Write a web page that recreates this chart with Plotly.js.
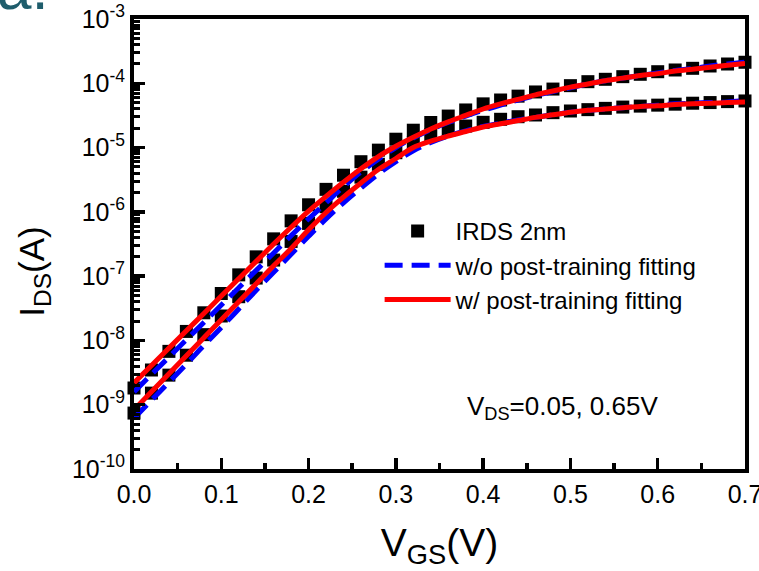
<!DOCTYPE html>
<html><head><meta charset="utf-8">
<script src="https://cdn.plot.ly/plotly-3.0.1.min.js"></script>
<style>html,body{margin:0;padding:0;background:#fff}#chart{width:759px;height:571px}</style>
</head><body><div id="chart"></div>
<script>
// Gate voltage (V)
const vgs = [0,0.02,0.04,0.06,0.08,0.10,0.12,0.14,0.16,0.18,0.20,0.22,0.24,0.26,0.28,0.30,0.32,0.34,0.36,0.38,0.40,0.42,0.44,0.46,0.48,0.50,0.52,0.54,0.56,0.58,0.60,0.62,0.64,0.66,0.68,0.70];
// log10(I_DS / A)
const irdsHighLog = [-8.74,-8.46,-8.17,-7.86,-7.57,-7.27,-6.98,-6.70,-6.42,-6.14,-5.89,-5.65,-5.43,-5.22,-5.04,-4.87,-4.73,-4.61,-4.51,-4.415,-4.32,-4.26,-4.20,-4.135,-4.09,-4.037,-3.975,-3.938,-3.897,-3.86,-3.82,-3.793,-3.767,-3.731,-3.70,-3.673];
const irdsLowLog = [-9.13,-8.82,-8.54,-8.23,-7.91,-7.62,-7.32,-7.03,-6.75,-6.46,-6.18,-5.92,-5.68,-5.46,-5.26,-5.08,-4.92,-4.80,-4.72,-4.665,-4.607,-4.56,-4.52,-4.493,-4.457,-4.431,-4.41,-4.39,-4.37,-4.355,-4.34,-4.325,-4.31,-4.30,-4.285,-4.275];
const woHighLog = [-8.80,-8.53,-8.26,-7.99,-7.72,-7.45,-7.18,-6.91,-6.64,-6.37,-6.11,-5.86,-5.61,-5.38,-5.18,-5.00,-4.85,-4.72,-4.61,-4.51,-4.42,-4.34,-4.26,-4.19,-4.13,-4.07,-4.01,-3.96,-3.92,-3.88,-3.84,-3.80,-3.77,-3.73,-3.70,-3.67];
const woLowLog = [-9.21,-8.93,-8.65,-8.37,-8.08,-7.80,-7.51,-7.22,-6.94,-6.66,-6.38,-6.11,-5.86,-5.63,-5.41,-5.22,-5.05,-4.92,-4.82,-4.74,-4.67,-4.62,-4.57,-4.53,-4.49,-4.45,-4.42,-4.40,-4.38,-4.36,-4.34,-4.32,-4.31,-4.30,-4.29,-4.27];
const wHighLog = [-8.66,-8.39,-8.12,-7.85,-7.58,-7.31,-7.04,-6.77,-6.50,-6.24,-5.99,-5.76,-5.54,-5.33,-5.14,-4.98,-4.84,-4.71,-4.60,-4.50,-4.40,-4.32,-4.25,-4.18,-4.12,-4.06,-4.01,-3.96,-3.92,-3.88,-3.85,-3.81,-3.78,-3.75,-3.72,-3.69];
const wLowLog = [-9.08,-8.80,-8.52,-8.24,-7.96,-7.68,-7.40,-7.12,-6.84,-6.57,-6.28,-6.01,-5.77,-5.55,-5.34,-5.17,-5.00,-4.90,-4.82,-4.75,-4.68,-4.63,-4.58,-4.53,-4.49,-4.45,-4.42,-4.40,-4.38,-4.36,-4.35,-4.33,-4.32,-4.31,-4.30,-4.29];

const seriesNames = ['IRDS 2nm','w/o post-training fitting','w/ post-training fitting'];
const xTickVals = [0,0.1,0.2,0.3,0.4,0.5,0.6,0.7];
const xTickText = ['0.0','0.1','0.2','0.3','0.4','0.5','0.6','0.7'];
const yTickVals = [1e-10,1e-9,1e-8,1e-7,1e-6,1e-5,1e-4,1e-3];
const yTickText = ['10<sup>-10</sup>','10<sup>-9</sup>','10<sup>-8</sup>','10<sup>-7</sup>','10<sup>-6</sup>','10<sup>-5</sup>','10<sup>-4</sup>','10<sup>-3</sup>'];

const toA = arr => arr.map(v => Math.pow(10, v));
const FONT = 'Liberation Sans, Arial, sans-serif';

const traces = [
  {x: vgs, y: toA(irdsHighLog), mode:'markers', name: seriesNames[0], showlegend:true,
   marker:{symbol:'square', size:13, color:'#000'}, cliponaxis:false},
  {x: vgs, y: toA(irdsLowLog), mode:'markers', name: seriesNames[0], showlegend:false,
   marker:{symbol:'square', size:13, color:'#000'}, cliponaxis:false},
  {x: vgs, y: toA(woHighLog), mode:'lines', name: seriesNames[1], showlegend:true,
   line:{color:'#0000ff', width:5, dash:'18px,9px', shape:'spline'}},
  {x: vgs, y: toA(woLowLog), mode:'lines', name: seriesNames[1], showlegend:false,
   line:{color:'#0000ff', width:5, dash:'18px,9px', shape:'spline'}},
  {x: vgs, y: toA(wHighLog), mode:'lines', name: seriesNames[2], showlegend:true,
   line:{color:'#ff0000', width:5, shape:'spline'}},
  {x: vgs, y: toA(wLowLog), mode:'lines', name: seriesNames[2], showlegend:false,
   line:{color:'#ff0000', width:5, shape:'spline'}}
];

const layout = {
  width:759, height:571,
  margin:{l:134, r:14, t:19, b:102},
  paper_bgcolor:'#fff', plot_bgcolor:'#fff',
  font:{family:FONT, color:'#000'},
  showlegend:true,
  legend:{x:0.402, y:0.578, xanchor:'left', yanchor:'top', bgcolor:'rgba(0,0,0,0)',
          font:{size:24, family:FONT}, traceorder:'normal', itemwidth:66},
  xaxis:{range:[0,0.7], tickvals:xTickVals, ticktext:xTickText, ticks:'inside', ticklen:11, tickwidth:3.5,
         tickcolor:'#000', showline:true, linewidth:4, linecolor:'#000', mirror:true,
         showgrid:false, zeroline:false, tickfont:{size:25, family:FONT}, ticklabeloverflow:'allow',
         minor:{ticks:'inside', dtick:0.05, ticklen:6, tickwidth:3.5, tickcolor:'#000', showgrid:false},
         title:{text:'V<sub>GS</sub>(V)', font:{size:39, family:FONT}, standoff:23}},
  yaxis:{type:'log', range:[-10,-3], tickvals:yTickVals, ticktext:yTickText,
         ticks:'inside', ticklen:11, tickwidth:3.5, tickcolor:'#000',
         showline:true, linewidth:4, linecolor:'#000', mirror:true, ticklabeloverflow:'allow',
         showgrid:false, zeroline:false, tickfont:{size:25, family:FONT},
         minor:{ticks:'inside', dtick:'D1', ticklen:6, tickwidth:3, tickcolor:'#000', showgrid:false}},
  annotations:[
    {xref:'paper', yref:'paper', x:-0.164, y:0.438, text:'I<sub>DS</sub>(A)', textangle:-90,
     showarrow:false, font:{size:35, family:FONT, color:'#000'}, xanchor:'center', yanchor:'middle'},
    {xref:'paper', yref:'paper', x:0.702, y:0.136, text:'V<sub>DS</sub>=0.05, 0.65V',
     showarrow:false, font:{size:26, family:FONT, color:'#000'}, xanchor:'center', yanchor:'middle'},
    {xref:'paper', yref:'paper', x:-0.228, y:1.07, text:'a.', showarrow:false,
     font:{size:62, family:FONT, color:'#1f5d6c'}, xanchor:'left', yanchor:'middle'}
  ]
};

Plotly.newPlot('chart', traces, layout, {displayModeBar:false, staticPlot:true});
</script>
</body></html>
